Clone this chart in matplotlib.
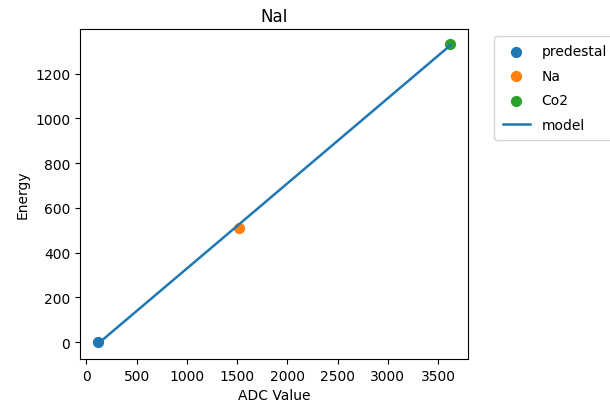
import matplotlib
matplotlib.use("Agg")
import matplotlib.pyplot as plt

# calibration points (ADC value, energy)
labels = ["predestal", "Na", "Co2"]
adc = [110, 1520, 3620]
energy = [0, 511, 1332]

# fitted model line
model_x = [110, 1520, 3620]
model_y = [-9, 527, 1326]

fig = plt.figure(figsize=(6.1, 4.06), dpi=100)
ax = fig.add_axes([0.131, 0.113, 0.636, 0.813])

for lab, x, y in zip(labels, adc, energy):
    ax.scatter([x], [y], s=50, label=lab)
ax.plot(model_x, model_y, lw=1.8, label="model")

ax.set_title("NaI")
ax.set_xlabel("ADC Value")
ax.set_ylabel("Energy")
ax.set_xticks(range(0, 4000, 500))
ax.legend(loc="upper left", bbox_to_anchor=(1.05, 1), labelspacing=0.75,
          borderpad=0.6)

fig.savefig("out.png", dpi=100)
